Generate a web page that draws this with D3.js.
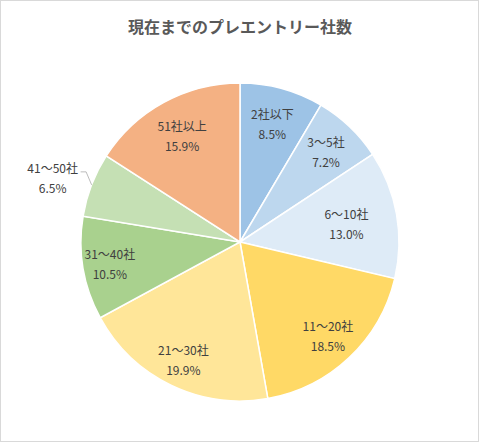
<!DOCTYPE html>
<html>
<head>
<meta charset="utf-8">
<script src="https://cdn.jsdelivr.net/npm/d3@7"></script>
<style>
  body { margin: 0; background: #fff; }
  text { font-family: "Noto Sans CJK JP", "Noto Sans", sans-serif; }
</style>
</head>
<body>
<div id="canvas"></div>
<script>
// data
var categories = ["2社以下", "3〜5社", "6〜10社", "11〜20社", "21〜30社", "31〜40社", "41〜50社", "51社以上"];
var shares = [8.5, 7.2, 13.0, 18.5, 19.9, 10.5, 6.5, 15.9];
var colors = ["#9dc3e6", "#bdd7ee", "#deebf7", "#ffd966", "#ffe699", "#a9d18e", "#c5e0b4", "#f4b183"];
// where each label sits, as a share of the radius (0 = outside with leader)
var labelRadius = [0.77, 0.785, 0.68, 0.805, 0.82, 0.83, 0, 0.76];

var width = 480, height = 443;
var cx = 240, cy = 242, r = 159;

var svg = d3.select("#canvas").append("svg")
    .attr("width", width)
    .attr("height", height);

// chart frame
svg.append("rect")
    .attr("x", 0.5).attr("y", 0.5)
    .attr("width", width - 2).attr("height", height - 2)
    .attr("fill", "#fff")
    .attr("stroke", "#d9d9d9");

svg.append("text")
    .attr("x", width / 2)
    .attr("y", 33)
    .attr("text-anchor", "middle")
    .attr("font-size", 16)
    .attr("font-weight", "bold")
    .attr("fill", "#595959")
    .text("現在までのプレエントリー社数");

var pie = d3.pie().sort(null).value(function(d) { return d; });
var arcs = pie(shares);

var arc = d3.arc().innerRadius(0).outerRadius(r);

var g = svg.append("g")
    .attr("transform", "translate(" + cx + "," + cy + ")");

g.selectAll("path.slice")
    .data(arcs)
  .enter().append("path")
    .attr("class", "slice")
    .attr("d", arc)
    .attr("fill", function(d, i) { return colors[i]; })
    .attr("stroke", "#fff")
    .attr("stroke-width", 1.5);

function fmt(v) { return v.toFixed(1) + "%"; }

arcs.forEach(function(d, i) {
  var lines = [categories[i], fmt(shares[i])];
  if (labelRadius[i] > 0) {
    var k = labelRadius[i] * r;
    var pos = d3.arc().innerRadius(k).outerRadius(k).centroid(d);
    var t = g.append("text")
        .attr("text-anchor", "middle")
        .attr("font-size", 12)
        .attr("fill", "#404040");
    lines.forEach(function(s, j) {
      t.append("tspan")
          .attr("x", pos[0])
          .attr("y", pos[1] + (j === 0 ? -10 : 10))
          .attr("dominant-baseline", "central")
          .text(s);
    });
  } else {
    // outside label with leader line
    var edge = arc.centroid(d).map(function(v) { return v * 2; }); // point on the rim
    var midY = edge[1] - 13;
    var right = edge[0] - 14;
    g.append("polyline")
        .attr("points", [edge, [edge[0] - 5.5, midY], [right + 3, midY]].map(function(p) { return p.join(","); }).join(" "))
        .attr("fill", "none")
        .attr("stroke", "#a6a6a6")
        .attr("stroke-width", 0.75);
    var t2 = g.append("text")
        .attr("text-anchor", "middle")
        .attr("font-size", 12)
        .attr("fill", "#404040");
    var lx = right - 25;
    lines.forEach(function(s, j) {
      t2.append("tspan")
          .attr("x", lx)
          .attr("y", midY + (j === 0 ? -4 : 16))
          .attr("dominant-baseline", "central")
          .text(s);
    });
  }
});
</script>
</body>
</html>
